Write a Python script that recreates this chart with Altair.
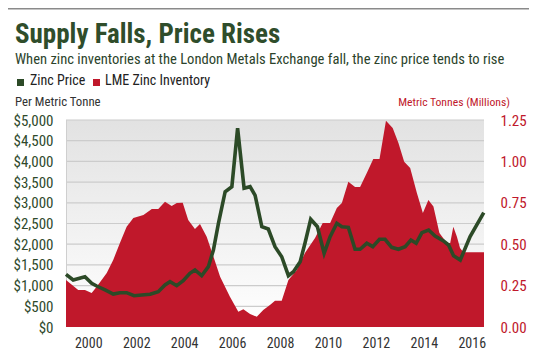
import altair as alt
import pandas as pd

# ---------------- data ----------------
inv_years = [1999.07, 1999.58, 1999.86, 2000.14, 2000.35, 2000.77, 2001.04, 2001.32, 2001.60, 2001.88,
             2002.30, 2002.65, 2002.92, 2003.20, 2003.48, 2003.69, 2003.94, 2004.17, 2004.45, 2004.66,
             2004.94, 2005.22, 2005.50, 2005.91, 2006.26, 2006.47, 2006.75, 2007.03, 2007.30, 2007.58,
             2007.79, 2008.07, 2008.35, 2008.70, 2009.04, 2009.46, 2009.78, 2010.09, 2010.37, 2010.58,
             2010.85, 2011.13, 2011.34, 2011.62, 2011.89, 2012.15, 2012.42, 2012.70, 2012.94, 2013.18,
             2013.43, 2013.71, 2013.96, 2014.19, 2014.40, 2014.65, 2014.96, 2015.10, 2015.23, 2015.38,
             2015.51, 2015.65, 2016.51]
inv_values = [0.284, 0.223, 0.223, 0.205, 0.243, 0.326, 0.405, 0.507, 0.606, 0.658,
              0.676, 0.713, 0.713, 0.757, 0.731, 0.749, 0.751, 0.646, 0.592, 0.622,
              0.545, 0.425, 0.304, 0.183, 0.092, 0.107, 0.079, 0.062, 0.103, 0.133,
              0.159, 0.159, 0.284, 0.344, 0.447, 0.537, 0.628, 0.628, 0.719, 0.749,
              0.877, 0.845, 0.845, 0.930, 1.015, 1.015, 1.246, 1.202, 1.111, 0.998,
              0.960, 0.809, 0.688, 0.767, 0.727, 0.568, 0.507, 0.507, 0.606, 0.545,
              0.477, 0.451, 0.451]

price_years = [1999.07, 1999.37, 1999.86, 2000.14, 2000.35, 2000.70, 2001.04, 2001.32, 2001.60, 2001.91,
               2002.23, 2002.58, 2002.92, 2003.20, 2003.41, 2003.69, 2003.96, 2004.24, 2004.45, 2004.73,
               2005.01, 2005.22, 2005.43, 2005.71, 2005.99, 2006.23, 2006.50, 2006.75, 2006.96, 2007.24,
               2007.51, 2007.79, 2008.07, 2008.35, 2008.56, 2008.84, 2009.04, 2009.28, 2009.56, 2009.84,
               2010.09, 2010.37, 2010.58, 2010.85, 2011.13, 2011.34, 2011.62, 2011.87, 2012.15, 2012.38,
               2012.66, 2012.94, 2013.22, 2013.46, 2013.68, 2013.92, 2014.20, 2014.47, 2014.82, 2015.03,
               2015.24, 2015.52, 2015.93, 2016.50]
price_values = [1273, 1135, 1215, 1055, 990, 894, 797, 829, 829, 756,
                773, 789, 853, 1014, 1094, 998, 1118, 1297, 1377, 1239,
                1457, 1860, 2505, 3268, 3389, 4800, 3350, 3389, 3180, 2423,
                2367, 1940, 1698, 1239, 1336, 1577, 2022, 2601, 2423, 1780,
                2181, 2505, 2423, 2408, 1877, 1877, 2022, 1940, 2118, 2118,
                1925, 1877, 1940, 2101, 2022, 2278, 2343, 2198, 2080, 1981,
                1723, 1618, 2182, 2761]

price_ticks = [0, 500, 1000, 1500, 2000, 2500, 3000, 3500, 4000, 4500, 5000]
inv_ticks = [0.0, 0.25, 0.5, 0.75, 1.0, 1.25]
year_ticks = [2000, 2002, 2004, 2006, 2008, 2010, 2012, 2014, 2016]

title_text = "Supply Falls, Price Rises"
subtitle_text = "When zinc inventories at the London Metals Exchange fall, the zinc price tends to rise"
legend_labels = ["Zinc Price", "LME Zinc Inventory"]
left_title = "Per Metric Tonne"
right_title = "Metric Tonnes (Millions)"

# ---------------- style ----------------
W, H = 418, 207
FONT = "Roboto Condensed, DejaVu Sans Condensed, sans-serif"
RED = "#c0182b"
GREEN = "#2c4a27"
TITLE_GREEN = "#2f4d2b"

inv_df = pd.DataFrame({"year": inv_years, "inv": inv_values})
price_df = pd.DataFrame({"year": price_years, "price": price_values})
grid_df = pd.DataFrame({"g": price_ticks[1:]})
one = pd.DataFrame({"a": [0]})

xscale = alt.Scale(domain=[1999.07, 2016.51], nice=False, zero=False)
xaxis = alt.Axis(values=year_ticks, format="d", ticks=False, domain=False, grid=False,
                 labelFont=FONT, labelFontSize=14, labelColor="#333333", labelPadding=9,
                 title=None)
pscale = alt.Scale(domain=[0, 5000], nice=False, zero=True)
iscale = alt.Scale(domain=[0, 1.25], nice=False, zero=True)

grad = alt.Gradient(gradient="linear",
                    stops=[alt.GradientStop(color="#e2e2e2", offset=0),
                           alt.GradientStop(color="#ffffff", offset=1)],
                    x1=0, x2=0, y1=0, y2=1)

bg = alt.Chart(one).mark_rect(fill=grad).encode(
    x=alt.value(0), x2=alt.value(W), y=alt.value(0), y2=alt.value(H))

left_edge = alt.Chart(one).mark_rule(color="#cfcfcf", strokeWidth=1).encode(
    x=alt.value(0.5), y=alt.value(0), y2=alt.value(H))

grid = alt.Chart(grid_df).mark_rule(color="#cccccc", strokeWidth=1.2).encode(
    y=alt.Y("g:Q", scale=pscale, axis=None))

area = alt.Chart(inv_df).mark_area(color=RED, opacity=1).encode(
    x=alt.X("year:Q", scale=xscale, axis=xaxis),
    y=alt.Y("inv:Q", scale=iscale,
            axis=alt.Axis(orient="right", values=inv_ticks, format=".2f", ticks=False,
                          domain=False, grid=False, labelFont=FONT, labelFontSize=15,
                          labelColor=RED, labelPadding=16, title=None)))

line = alt.Chart(price_df).mark_line(color=GREEN, strokeWidth=3.6, strokeJoin="miter").encode(
    x=alt.X("year:Q", scale=xscale, axis=xaxis),
    y=alt.Y("price:Q", scale=pscale,
            axis=alt.Axis(orient="left", values=price_ticks, format="$,.0f", ticks=False,
                          domain=False, grid=False, labelFont=FONT, labelFontSize=15,
                          labelColor="#2f4a2c", labelPadding=13, title=None)))


def txt(text, x, y, size, color, weight="normal", align="left"):
    return alt.Chart(one).mark_text(text=text, font=FONT, fontSize=size, fontWeight=weight,
                                    color=color, align=align, baseline="alphabetic").encode(
        x=alt.value(x), y=alt.value(y))


def box(x0, y0, x1, y1, color):
    return alt.Chart(one).mark_rect(color=color).encode(
        x=alt.value(x0), x2=alt.value(x1), y=alt.value(y0), y2=alt.value(y1))


top_rule = alt.Chart(one).mark_rule(color="#8a8a8a", strokeWidth=1.6).encode(
    x=alt.value(-58), x2=alt.value(463), y=alt.value(-111.2))

layers = [
    bg, grid, left_edge, area, line, top_rule,
    txt(title_text, -51, -77, 27, TITLE_GREEN, "bold"),
    txt(subtitle_text, -51, -56, 14.6, "#2b432b"),
    box(-49, -41, -42, -34, GREEN),
    txt(legend_labels[0], -36, -35, 14, "#222222"),
    box(27, -41, 34, -34, RED),
    txt(legend_labels[1], 39, -35, 14, "#222222"),
    txt(left_title, -51, -14, 12.8, "#333333"),
    txt(right_title, 444, -14, 11.7, RED, align="right"),
]

chart = alt.layer(*layers).resolve_scale(y="independent").properties(
    width=W, height=H,
    padding={"left": 58, "top": 112, "right": 45, "bottom": 27},
    autosize=alt.AutoSizeParams(type="none"),
).configure_view(stroke=None)

chart.save("out.html", embed_options={"renderer": "svg", "actions": False})
